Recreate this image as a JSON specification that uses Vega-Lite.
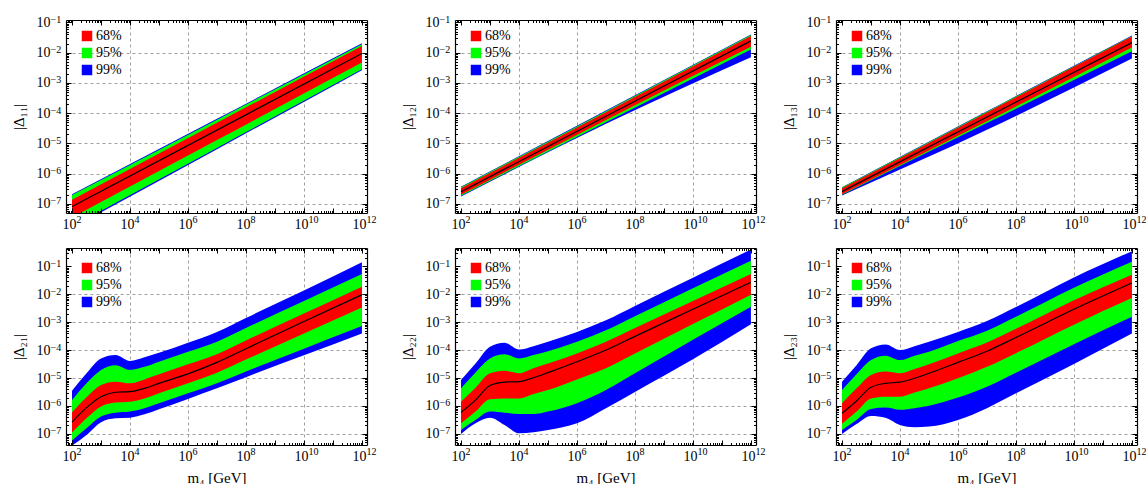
{
"$schema": "https://vega.github.io/schema/vega-lite/v6.json",
"padding": {"left": 11, "top": 14, "right": 0, "bottom": 0},
"datasets": {"d": [
{"p":1,"m":1e2,"b1":1.58e-8,"b2":2.09e-7,"g1":1.78e-8,"g2":1.95e-7,"r1":3.55e-8,"r2":1.38e-7,"c":8.13e-8},
{"p":1,"m":1e7,"b1":6.46e-6,"b2":6.5e-5,"g1":7.08e-6,"g2":6.1e-5,"r1":1.29e-5,"r2":4.79e-5,"c":2.75e-5},
{"p":1,"m":1e12,"b1":2.63e-3,"b2":2.04e-2,"g1":2.82e-3,"g2":1.91e-2,"r1":4.68e-3,"r2":1.66e-2,"c":9.33e-3},
{"p":2,"m":1e2,"b1":1.74e-7,"b2":3.72e-7,"g1":1.86e-7,"g2":3.55e-7,"r1":2.0e-7,"r2":3.31e-7,"c":2.51e-7},
{"p":2,"m":1e7,"b1":4.47e-5,"b2":1.22e-4,"g1":5.01e-5,"g2":1.16e-4,"r1":5.89e-5,"r2":1.08e-4,"c":7.85e-5},
{"p":2,"m":1e12,"b1":7.08e-3,"b2":3.98e-2,"g1":1.26e-2,"g2":3.8e-2,"r1":1.58e-2,"r2":3.55e-2,"c":2.45e-2},
{"p":3,"m":1e2,"b1":1.91e-7,"b2":3.55e-7,"g1":2.0e-7,"g2":3.47e-7,"r1":2.09e-7,"r2":3.31e-7,"c":2.57e-7},
{"p":3,"m":1e7,"b1":2.82e-5,"b2":1.15e-4,"g1":4.68e-5,"g2":1.11e-4,"r1":5.37e-5,"r2":1.06e-4,"c":7.41e-5},
{"p":3,"m":1e12,"b1":6.46e-3,"b2":3.72e-2,"g1":1.12e-2,"g2":3.55e-2,"r1":1.48e-2,"r2":3.39e-2,"c":2.14e-2},
{"p":4,"m":100,"b2":3.47e-6,"g2":1.62e-6,"r2":5.89e-7,"c":2.63e-7,"r1":1.12e-7,"g1":5.75e-8,"b1":3.8e-8},
{"p":4,"m":316.2,"b2":1.48e-5,"g2":6.46e-6,"r2":2.04e-6,"c":8.71e-7,"r1":3.63e-7,"g1":1.58e-7,"b1":9.12e-8},
{"p":4,"m":1000,"b2":5.01e-5,"g2":1.95e-5,"r2":5.62e-6,"c":2.14e-6,"r1":9.55e-7,"g1":4.17e-7,"b1":2.63e-7},
{"p":4,"m":3162,"b2":6.61e-5,"g2":2.88e-5,"r2":7.41e-6,"c":3.09e-6,"r1":1.32e-6,"g1":5.75e-7,"b1":3.63e-7},
{"p":4,"m":1e4,"b2":4.07e-5,"g2":1.95e-5,"r2":6.46e-6,"c":3.24e-6,"r1":1.41e-6,"g1":6.31e-7,"b1":3.8e-7},
{"p":4,"m":31623,"b2":5.5e-5,"g2":2.51e-5,"r2":8.91e-6,"c":4.27e-6,"r1":1.86e-6,"g1":8.32e-7,"b1":5.01e-7},
{"p":4,"m":1e5,"b2":7.94e-5,"g2":3.8e-5,"r2":1.35e-5,"c":6.46e-6,"r1":2.82e-6,"g1":1.26e-6,"b1":7.59e-7},
{"p":4,"m":1e6,"b2":1.82e-4,"g2":8.71e-5,"r2":3.09e-5,"c":1.41e-5,"r1":6.46e-6,"g1":2.82e-6,"b1":1.78e-6},
{"p":4,"m":1e7,"b2":4.47e-4,"g2":2.0e-4,"r2":7.08e-5,"c":3.63e-5,"r1":1.55e-5,"g1":6.46e-6,"b1":4.27e-6},
{"p":4,"m":1e8,"b2":1.41e-3,"g2":6.17e-4,"r2":2.19e-4,"c":1.12e-4,"r1":4.57e-5,"g1":1.7e-5,"b1":1.07e-5},
{"p":4,"m":1e10,"b2":1.35e-2,"g2":5.75e-3,"r2":2.04e-3,"c":1.05e-3,"r1":3.89e-4,"g1":1.12e-4,"b1":6.46e-5},
{"p":4,"m":1e12,"b2":1.38e-1,"g2":5.25e-2,"r2":1.86e-2,"c":9.55e-3,"r1":3.31e-3,"g1":7.24e-4,"b1":3.89e-4},
{"p":5,"m":100,"b2":8.51e-6,"g2":4.27e-6,"r2":1.41e-6,"c":5.89e-7,"r1":2.4e-7,"g1":1.38e-7,"b1":1.0e-7},
{"p":5,"m":316.2,"b2":3.31e-5,"g2":1.58e-5,"r2":4.47e-6,"c":1.62e-6,"r1":6.31e-7,"g1":3.16e-7,"b1":2.4e-7},
{"p":5,"m":1000,"b2":1.32e-4,"g2":5.01e-5,"r2":1.48e-5,"c":5.37e-6,"r1":1.74e-6,"g1":6.31e-7,"b1":3.8e-7},
{"p":5,"m":3162,"b2":1.82e-4,"g2":7.08e-5,"r2":1.82e-5,"c":7.08e-6,"r1":1.86e-6,"g1":5.75e-7,"b1":2.09e-7},
{"p":5,"m":1e4,"b2":1.05e-4,"g2":5.01e-5,"r2":1.48e-5,"c":7.41e-6,"r1":1.86e-6,"g1":5.13e-7,"b1":1.05e-7},
{"p":5,"m":31623,"b2":1.38e-4,"g2":6.61e-5,"r2":2.24e-5,"c":1.02e-5,"r1":2.69e-6,"g1":5.13e-7,"b1":1.15e-7},
{"p":5,"m":1e5,"b2":2.0e-4,"g2":9.12e-5,"r2":3.31e-5,"c":1.55e-5,"r1":3.72e-6,"g1":6.31e-7,"b1":1.38e-7},
{"p":5,"m":1e6,"b2":4.47e-4,"g2":2.0e-4,"r2":7.59e-5,"c":3.8e-5,"r1":8.91e-6,"g1":1.26e-6,"b1":2.4e-7},
{"p":5,"m":1e7,"b2":1.17e-3,"g2":5.13e-4,"r2":2.0e-4,"c":1.0e-4,"r1":2.24e-5,"g1":3.72e-6,"b1":8.32e-7},
{"p":5,"m":1e8,"b2":3.8e-3,"g2":1.62e-3,"r2":6.17e-4,"c":3.09e-4,"r1":7.59e-5,"g1":1.48e-5,"b1":3.16e-6},
{"p":5,"m":1e10,"b2":3.89e-2,"g2":1.62e-2,"r2":5.75e-3,"c":2.88e-3,"r1":8.51e-4,"g1":2.34e-4,"b1":4.68e-5},
{"p":5,"m":1e12,"b2":3.98e-1,"g2":1.58e-1,"r2":5.25e-2,"c":2.69e-2,"r1":9.55e-3,"g1":3.55e-3,"b1":8.32e-4},
{"p":6,"m":100,"b2":7.41e-6,"g2":3.72e-6,"r2":1.26e-6,"c":5.5e-7,"r1":2.29e-7,"g1":1.38e-7,"b1":1.0e-7},
{"p":6,"m":316.2,"b2":2.88e-5,"g2":1.35e-5,"r2":4.27e-6,"c":1.51e-6,"r1":6.31e-7,"g1":3.16e-7,"b1":2.24e-7},
{"p":6,"m":1000,"b2":1.15e-4,"g2":4.37e-5,"r2":1.29e-5,"c":4.68e-6,"r1":1.86e-6,"g1":7.76e-7,"b1":4.37e-7},
{"p":6,"m":3162,"b2":1.58e-4,"g2":6.31e-5,"r2":1.7e-5,"c":6.46e-6,"r1":2.14e-6,"g1":8.71e-7,"b1":3.8e-7},
{"p":6,"m":1e4,"b2":1.0e-4,"g2":4.37e-5,"r2":1.48e-5,"c":7.08e-6,"r1":2.14e-6,"g1":7.24e-7,"b1":2.09e-7},
{"p":6,"m":31623,"b2":1.38e-4,"g2":6.31e-5,"r2":2.09e-5,"c":9.77e-6,"r1":3.02e-6,"g1":8.32e-7,"b1":1.74e-7},
{"p":6,"m":1e5,"b2":2.0e-4,"g2":8.71e-5,"r2":3.09e-5,"c":1.48e-5,"r1":4.27e-6,"g1":1.02e-6,"b1":1.82e-7},
{"p":6,"m":1e6,"b2":4.47e-4,"g2":2.09e-4,"r2":7.59e-5,"c":3.63e-5,"r1":9.77e-6,"g1":2.0e-6,"b1":3.16e-7},
{"p":6,"m":1e7,"b2":1.1e-3,"g2":4.9e-4,"r2":1.86e-4,"c":9.12e-5,"r1":2.51e-5,"g1":4.9e-6,"b1":8.32e-7},
{"p":6,"m":1e8,"b2":3.47e-3,"g2":1.55e-3,"r2":5.75e-4,"c":2.82e-4,"r1":7.76e-5,"g1":1.55e-5,"b1":2.82e-6},
{"p":6,"m":1e10,"b2":3.98e-2,"g2":1.7e-2,"r2":6.03e-3,"c":2.88e-3,"r1":8.13e-4,"g1":1.62e-4,"b1":3.16e-5},
{"p":6,"m":1e12,"b2":3.47e-1,"g2":1.45e-1,"r2":5.01e-2,"c":2.51e-2,"r1":7.24e-3,"g1":1.55e-3,"b1":3.89e-4}
]},
"data": {"name": "d"},
"config": {
  "view": {"stroke": null},
  "font": "Liberation Serif",
  "axis": {"labelFont": "Liberation Serif", "labelFontSize": 14, "labelColor": "#000", "titleFont": "Liberation Serif", "titleColor": "#000", "titleFontWeight": "normal", "titleFontSize": 15, "labelFlush": false, "labelOverlap": false, "tickColor": "#000", "domainColor": "#000", "domainWidth": 1.2, "gridColor": "#a0a0a0", "gridDash": [3, 3], "gridWidth": 1},
  "legend": {"labelFont": "Liberation Serif", "labelFontSize": 14, "labelColor": "#000"}
},
"spacing": 16,
"resolve": {"scale": {"color": "independent"}, "legend": {"color": "independent"}},
"vconcat": [
{"hconcat": [
 {"width": 301, "height": 193, "transform": [{"filter": "datum.p == 1"}],
  "layer": [
   {"mark": {"type": "area", "clip": true, "opacity": 1, "interpolate": "monotone"}, "encoding": {
     "x": {"field": "m", "type": "quantitative", "scale": {"type": "log", "domain": [62, 1.5e12], "nice": false}, "axis": {"orient": "bottom", "values": [1e2,1e4,1e6,1e8,1e10,1e12], "labelExpr": "'10'", "labelAlign": "right", "labelOffset": 4, "labelPadding": 4, "ticks": false, "domain": false, "grid": true, "gridOpacity": {"condition": {"test": "datum.value < 1e3 || datum.value > 1e11", "value": 0}, "value": 1}, "title": null, "zindex": 0}},
     "y": {"field": "b1", "type": "quantitative", "scale": {"type": "log", "domain": [5e-8, 0.12], "nice": false}, "axis": {"orient": "left", "values": [1e-7,1e-6,1e-5,1e-4,1e-3,1e-2,1e-1], "labelExpr": "'10'", "labelAlign": "right", "labelBaseline": "middle", "labelPadding": 16, "ticks": false, "domain": false, "grid": true, "gridOpacity": {"condition": {"test": "datum.value > 0.05", "value": 0}, "value": 1}, "title": "|Δ₁₁|", "titlePadding": 10, "zindex": 0}},
     "y2": {"field": "b2"},
     "color": {"datum": "99%", "type": "nominal", "scale": {"domain": ["68%","95%","99%"], "range": ["#ff0000","#00ff00","#0000ff"]}, "legend": {"orient": "none", "legendX": 14, "legendY": 9, "title": null, "symbolType": "square", "symbolSize": 110, "symbolStrokeWidth": 0, "symbolOpacity": 1, "rowPadding": 3, "labelOffset": 2, "padding": 0}}}},
   {"mark": {"type": "area", "clip": true, "opacity": 1, "interpolate": "monotone"}, "encoding": {
     "x": {"field": "m", "type": "quantitative", "scale": {"type": "log", "domain": [62, 1.5e12], "nice": false}, "axis": {"orient": "bottom", "values": [1e2,1e3,1e4,1e5,1e6,1e7,1e8,1e9,1e10,1e11,1e12], "labels": false, "tickSize": -5, "domain": true, "grid": false, "title": null, "zindex": 1}},
     "y": {"field": "g1", "type": "quantitative", "scale": {"type": "log", "domain": [5e-8, 0.12], "nice": false}, "axis": {"orient": "left", "values": [1e-7,1e-6,1e-5,1e-4,1e-3,1e-2,1e-1], "labels": false, "tickSize": -5, "domain": true, "grid": false, "title": null, "zindex": 1}},
     "y2": {"field": "g2"},
     "color": {"datum": "95%", "type": "nominal"}}},
   {"mark": {"type": "area", "clip": true, "opacity": 1, "interpolate": "monotone"}, "encoding": {
     "x": {"field": "m", "type": "quantitative", "scale": {"type": "log", "domain": [62, 1.5e12], "nice": false}, "axis": {"orient": "bottom", "values": [70,80,90,200,300,400,500,600,700,800,900,2e3,3e3,4e3,5e3,6e3,7e3,8e3,9e3,2e4,3e4,4e4,5e4,6e4,7e4,8e4,9e4,2e5,3e5,4e5,5e5,6e5,7e5,8e5,9e5,2e6,3e6,4e6,5e6,6e6,7e6,8e6,9e6,2e7,3e7,4e7,5e7,6e7,7e7,8e7,9e7,2e8,3e8,4e8,5e8,6e8,7e8,8e8,9e8,2e9,3e9,4e9,5e9,6e9,7e9,8e9,9e9,2e10,3e10,4e10,5e10,6e10,7e10,8e10,9e10,2e11,3e11,4e11,5e11,6e11,7e11,8e11,9e11], "labels": false, "tickSize": -2.5, "domain": false, "grid": false, "title": null, "zindex": 1}},
     "y": {"field": "r1", "type": "quantitative", "scale": {"type": "log", "domain": [5e-8, 0.12], "nice": false}, "axis": {"orient": "left", "values": [6e-8,7e-8,8e-8,9e-8,2e-7,3e-7,4e-7,5e-7,6e-7,7e-7,8e-7,9e-7,2e-6,3e-6,4e-6,5e-6,6e-6,7e-6,8e-6,9e-6,2e-5,3e-5,4e-5,5e-5,6e-5,7e-5,8e-5,9e-5,2e-4,3e-4,4e-4,5e-4,6e-4,7e-4,8e-4,9e-4,2e-3,3e-3,4e-3,5e-3,6e-3,7e-3,8e-3,9e-3,2e-2,3e-2,4e-2,5e-2,6e-2,7e-2,8e-2,9e-2], "labels": false, "tickSize": -2.5, "domain": false, "grid": false, "title": null, "zindex": 1}},
     "y2": {"field": "r2"},
     "color": {"datum": "68%", "type": "nominal"}}},
   {"mark": {"type": "line", "clip": true, "color": "#000", "strokeWidth": 1.2, "interpolate": "monotone"}, "encoding": {
     "x": {"field": "m", "type": "quantitative", "scale": {"type": "log", "domain": [62, 1.5e12], "nice": false}, "axis": {"orient": "top", "values": [1e2,1e3,1e4,1e5,1e6,1e7,1e8,1e9,1e10,1e11,1e12], "labels": false, "tickSize": -5, "domain": true, "grid": false, "title": null, "zindex": 1}},
     "y": {"field": "c", "type": "quantitative", "scale": {"type": "log", "domain": [5e-8, 0.12], "nice": false}, "axis": {"orient": "right", "values": [1e-7,1e-6,1e-5,1e-4,1e-3,1e-2,1e-1], "labels": false, "tickSize": -5, "domain": true, "grid": false, "title": null, "zindex": 1}}}},
   {"mark": {"type": "line", "clip": true, "opacity": 0}, "encoding": {
     "x": {"field": "m", "type": "quantitative", "scale": {"type": "log", "domain": [62, 1.5e12], "nice": false}, "axis": {"orient": "top", "values": [70,80,90,200,300,400,500,600,700,800,900,2e3,3e3,4e3,5e3,6e3,7e3,8e3,9e3,2e4,3e4,4e4,5e4,6e4,7e4,8e4,9e4,2e5,3e5,4e5,5e5,6e5,7e5,8e5,9e5,2e6,3e6,4e6,5e6,6e6,7e6,8e6,9e6,2e7,3e7,4e7,5e7,6e7,7e7,8e7,9e7,2e8,3e8,4e8,5e8,6e8,7e8,8e8,9e8,2e9,3e9,4e9,5e9,6e9,7e9,8e9,9e9,2e10,3e10,4e10,5e10,6e10,7e10,8e10,9e10,2e11,3e11,4e11,5e11,6e11,7e11,8e11,9e11], "labels": false, "tickSize": -2.5, "domain": false, "grid": false, "title": null, "zindex": 1}},
     "y": {"field": "c", "type": "quantitative", "scale": {"type": "log", "domain": [5e-8, 0.12], "nice": false}, "axis": {"orient": "right", "values": [6e-8,7e-8,8e-8,9e-8,2e-7,3e-7,4e-7,5e-7,6e-7,7e-7,8e-7,9e-7,2e-6,3e-6,4e-6,5e-6,6e-6,7e-6,8e-6,9e-6,2e-5,3e-5,4e-5,5e-5,6e-5,7e-5,8e-5,9e-5,2e-4,3e-4,4e-4,5e-4,6e-4,7e-4,8e-4,9e-4,2e-3,3e-3,4e-3,5e-3,6e-3,7e-3,8e-3,9e-3,2e-2,3e-2,4e-2,5e-2,6e-2,7e-2,8e-2,9e-2], "labels": false, "tickSize": -2.5, "domain": false, "grid": false, "title": null, "zindex": 1}}}},
   {"mark": {"type": "line", "clip": true, "opacity": 0}, "encoding": {
     "x": {"field": "m", "type": "quantitative", "scale": {"type": "log", "domain": [62, 1.5e12], "nice": false}, "axis": {"orient": "bottom", "values": [1e2,1e4,1e6,1e8,1e10,1e12], "labelExpr": "round(log(datum.value)/LN10) + ''", "labelAlign": "left", "labelOffset": 4, "labelPadding": 1, "labelFontSize": 10, "ticks": false, "domain": false, "grid": false, "title": null}},
     "y": {"field": "c", "type": "quantitative", "scale": {"type": "log", "domain": [5e-8, 0.12], "nice": false}, "axis": {"orient": "left", "values": [1e-7,1e-6,1e-5,1e-4,1e-3,1e-2,1e-1], "labelExpr": "'−' + round(-log(datum.value)/LN10)", "labelAlign": "left", "labelBaseline": "alphabetic", "labelPadding": 16, "labelFontSize": 10, "ticks": false, "domain": false, "grid": false, "title": null}}}}
  ],
  "resolve": {"axis": {"x": "independent", "y": "independent"}}},
 {"hconcat": [
 {"width": 301, "height": 193, "transform": [{"filter": "datum.p == 2"}],
  "layer": [
   {"mark": {"type": "area", "clip": true, "opacity": 1, "interpolate": "monotone"}, "encoding": {
     "x": {"field": "m", "type": "quantitative", "scale": {"type": "log", "domain": [62, 1.5e12], "nice": false}, "axis": {"orient": "bottom", "values": [1e2,1e4,1e6,1e8,1e10,1e12], "labelExpr": "'10'", "labelAlign": "right", "labelOffset": 4, "labelPadding": 4, "ticks": false, "domain": false, "grid": true, "gridOpacity": {"condition": {"test": "datum.value < 1e3 || datum.value > 1e11", "value": 0}, "value": 1}, "title": null, "zindex": 0}},
     "y": {"field": "b1", "type": "quantitative", "scale": {"type": "log", "domain": [5e-8, 0.12], "nice": false}, "axis": {"orient": "left", "values": [1e-7,1e-6,1e-5,1e-4,1e-3,1e-2,1e-1], "labelExpr": "'10'", "labelAlign": "right", "labelBaseline": "middle", "labelPadding": 16, "ticks": false, "domain": false, "grid": true, "gridOpacity": {"condition": {"test": "datum.value > 0.05", "value": 0}, "value": 1}, "title": "|Δ₁₂|", "titlePadding": 10, "zindex": 0}},
     "y2": {"field": "b2"},
     "color": {"datum": "99%", "type": "nominal", "scale": {"domain": ["68%","95%","99%"], "range": ["#ff0000","#00ff00","#0000ff"]}, "legend": {"orient": "none", "legendX": 14, "legendY": 9, "title": null, "symbolType": "square", "symbolSize": 110, "symbolStrokeWidth": 0, "symbolOpacity": 1, "rowPadding": 3, "labelOffset": 2, "padding": 0}}}},
   {"mark": {"type": "area", "clip": true, "opacity": 1, "interpolate": "monotone"}, "encoding": {
     "x": {"field": "m", "type": "quantitative", "scale": {"type": "log", "domain": [62, 1.5e12], "nice": false}, "axis": {"orient": "bottom", "values": [1e2,1e3,1e4,1e5,1e6,1e7,1e8,1e9,1e10,1e11,1e12], "labels": false, "tickSize": -5, "domain": true, "grid": false, "title": null, "zindex": 1}},
     "y": {"field": "g1", "type": "quantitative", "scale": {"type": "log", "domain": [5e-8, 0.12], "nice": false}, "axis": {"orient": "left", "values": [1e-7,1e-6,1e-5,1e-4,1e-3,1e-2,1e-1], "labels": false, "tickSize": -5, "domain": true, "grid": false, "title": null, "zindex": 1}},
     "y2": {"field": "g2"},
     "color": {"datum": "95%", "type": "nominal"}}},
   {"mark": {"type": "area", "clip": true, "opacity": 1, "interpolate": "monotone"}, "encoding": {
     "x": {"field": "m", "type": "quantitative", "scale": {"type": "log", "domain": [62, 1.5e12], "nice": false}, "axis": {"orient": "bottom", "values": [70,80,90,200,300,400,500,600,700,800,900,2e3,3e3,4e3,5e3,6e3,7e3,8e3,9e3,2e4,3e4,4e4,5e4,6e4,7e4,8e4,9e4,2e5,3e5,4e5,5e5,6e5,7e5,8e5,9e5,2e6,3e6,4e6,5e6,6e6,7e6,8e6,9e6,2e7,3e7,4e7,5e7,6e7,7e7,8e7,9e7,2e8,3e8,4e8,5e8,6e8,7e8,8e8,9e8,2e9,3e9,4e9,5e9,6e9,7e9,8e9,9e9,2e10,3e10,4e10,5e10,6e10,7e10,8e10,9e10,2e11,3e11,4e11,5e11,6e11,7e11,8e11,9e11], "labels": false, "tickSize": -2.5, "domain": false, "grid": false, "title": null, "zindex": 1}},
     "y": {"field": "r1", "type": "quantitative", "scale": {"type": "log", "domain": [5e-8, 0.12], "nice": false}, "axis": {"orient": "left", "values": [6e-8,7e-8,8e-8,9e-8,2e-7,3e-7,4e-7,5e-7,6e-7,7e-7,8e-7,9e-7,2e-6,3e-6,4e-6,5e-6,6e-6,7e-6,8e-6,9e-6,2e-5,3e-5,4e-5,5e-5,6e-5,7e-5,8e-5,9e-5,2e-4,3e-4,4e-4,5e-4,6e-4,7e-4,8e-4,9e-4,2e-3,3e-3,4e-3,5e-3,6e-3,7e-3,8e-3,9e-3,2e-2,3e-2,4e-2,5e-2,6e-2,7e-2,8e-2,9e-2], "labels": false, "tickSize": -2.5, "domain": false, "grid": false, "title": null, "zindex": 1}},
     "y2": {"field": "r2"},
     "color": {"datum": "68%", "type": "nominal"}}},
   {"mark": {"type": "line", "clip": true, "color": "#000", "strokeWidth": 1.2, "interpolate": "monotone"}, "encoding": {
     "x": {"field": "m", "type": "quantitative", "scale": {"type": "log", "domain": [62, 1.5e12], "nice": false}, "axis": {"orient": "top", "values": [1e2,1e3,1e4,1e5,1e6,1e7,1e8,1e9,1e10,1e11,1e12], "labels": false, "tickSize": -5, "domain": true, "grid": false, "title": null, "zindex": 1}},
     "y": {"field": "c", "type": "quantitative", "scale": {"type": "log", "domain": [5e-8, 0.12], "nice": false}, "axis": {"orient": "right", "values": [1e-7,1e-6,1e-5,1e-4,1e-3,1e-2,1e-1], "labels": false, "tickSize": -5, "domain": true, "grid": false, "title": null, "zindex": 1}}}},
   {"mark": {"type": "line", "clip": true, "opacity": 0}, "encoding": {
     "x": {"field": "m", "type": "quantitative", "scale": {"type": "log", "domain": [62, 1.5e12], "nice": false}, "axis": {"orient": "top", "values": [70,80,90,200,300,400,500,600,700,800,900,2e3,3e3,4e3,5e3,6e3,7e3,8e3,9e3,2e4,3e4,4e4,5e4,6e4,7e4,8e4,9e4,2e5,3e5,4e5,5e5,6e5,7e5,8e5,9e5,2e6,3e6,4e6,5e6,6e6,7e6,8e6,9e6,2e7,3e7,4e7,5e7,6e7,7e7,8e7,9e7,2e8,3e8,4e8,5e8,6e8,7e8,8e8,9e8,2e9,3e9,4e9,5e9,6e9,7e9,8e9,9e9,2e10,3e10,4e10,5e10,6e10,7e10,8e10,9e10,2e11,3e11,4e11,5e11,6e11,7e11,8e11,9e11], "labels": false, "tickSize": -2.5, "domain": false, "grid": false, "title": null, "zindex": 1}},
     "y": {"field": "c", "type": "quantitative", "scale": {"type": "log", "domain": [5e-8, 0.12], "nice": false}, "axis": {"orient": "right", "values": [6e-8,7e-8,8e-8,9e-8,2e-7,3e-7,4e-7,5e-7,6e-7,7e-7,8e-7,9e-7,2e-6,3e-6,4e-6,5e-6,6e-6,7e-6,8e-6,9e-6,2e-5,3e-5,4e-5,5e-5,6e-5,7e-5,8e-5,9e-5,2e-4,3e-4,4e-4,5e-4,6e-4,7e-4,8e-4,9e-4,2e-3,3e-3,4e-3,5e-3,6e-3,7e-3,8e-3,9e-3,2e-2,3e-2,4e-2,5e-2,6e-2,7e-2,8e-2,9e-2], "labels": false, "tickSize": -2.5, "domain": false, "grid": false, "title": null, "zindex": 1}}}},
   {"mark": {"type": "line", "clip": true, "opacity": 0}, "encoding": {
     "x": {"field": "m", "type": "quantitative", "scale": {"type": "log", "domain": [62, 1.5e12], "nice": false}, "axis": {"orient": "bottom", "values": [1e2,1e4,1e6,1e8,1e10,1e12], "labelExpr": "round(log(datum.value)/LN10) + ''", "labelAlign": "left", "labelOffset": 4, "labelPadding": 1, "labelFontSize": 10, "ticks": false, "domain": false, "grid": false, "title": null}},
     "y": {"field": "c", "type": "quantitative", "scale": {"type": "log", "domain": [5e-8, 0.12], "nice": false}, "axis": {"orient": "left", "values": [1e-7,1e-6,1e-5,1e-4,1e-3,1e-2,1e-1], "labelExpr": "'−' + round(-log(datum.value)/LN10)", "labelAlign": "left", "labelBaseline": "alphabetic", "labelPadding": 16, "labelFontSize": 10, "ticks": false, "domain": false, "grid": false, "title": null}}}}
  ],
  "resolve": {"axis": {"x": "independent", "y": "independent"}}},
 {"width": 301, "height": 193, "transform": [{"filter": "datum.p == 3"}],
  "layer": [
   {"mark": {"type": "area", "clip": true, "opacity": 1, "interpolate": "monotone"}, "encoding": {
     "x": {"field": "m", "type": "quantitative", "scale": {"type": "log", "domain": [62, 1.5e12], "nice": false}, "axis": {"orient": "bottom", "values": [1e2,1e4,1e6,1e8,1e10,1e12], "labelExpr": "'10'", "labelAlign": "right", "labelOffset": 4, "labelPadding": 4, "ticks": false, "domain": false, "grid": true, "gridOpacity": {"condition": {"test": "datum.value < 1e3 || datum.value > 1e11", "value": 0}, "value": 1}, "title": null, "zindex": 0}},
     "y": {"field": "b1", "type": "quantitative", "scale": {"type": "log", "domain": [5e-8, 0.12], "nice": false}, "axis": {"orient": "left", "values": [1e-7,1e-6,1e-5,1e-4,1e-3,1e-2,1e-1], "labelExpr": "'10'", "labelAlign": "right", "labelBaseline": "middle", "labelPadding": 16, "ticks": false, "domain": false, "grid": true, "gridOpacity": {"condition": {"test": "datum.value > 0.05", "value": 0}, "value": 1}, "title": "|Δ₁₃|", "titlePadding": 10, "zindex": 0}},
     "y2": {"field": "b2"},
     "color": {"datum": "99%", "type": "nominal", "scale": {"domain": ["68%","95%","99%"], "range": ["#ff0000","#00ff00","#0000ff"]}, "legend": {"orient": "none", "legendX": 14, "legendY": 9, "title": null, "symbolType": "square", "symbolSize": 110, "symbolStrokeWidth": 0, "symbolOpacity": 1, "rowPadding": 3, "labelOffset": 2, "padding": 0}}}},
   {"mark": {"type": "area", "clip": true, "opacity": 1, "interpolate": "monotone"}, "encoding": {
     "x": {"field": "m", "type": "quantitative", "scale": {"type": "log", "domain": [62, 1.5e12], "nice": false}, "axis": {"orient": "bottom", "values": [1e2,1e3,1e4,1e5,1e6,1e7,1e8,1e9,1e10,1e11,1e12], "labels": false, "tickSize": -5, "domain": true, "grid": false, "title": null, "zindex": 1}},
     "y": {"field": "g1", "type": "quantitative", "scale": {"type": "log", "domain": [5e-8, 0.12], "nice": false}, "axis": {"orient": "left", "values": [1e-7,1e-6,1e-5,1e-4,1e-3,1e-2,1e-1], "labels": false, "tickSize": -5, "domain": true, "grid": false, "title": null, "zindex": 1}},
     "y2": {"field": "g2"},
     "color": {"datum": "95%", "type": "nominal"}}},
   {"mark": {"type": "area", "clip": true, "opacity": 1, "interpolate": "monotone"}, "encoding": {
     "x": {"field": "m", "type": "quantitative", "scale": {"type": "log", "domain": [62, 1.5e12], "nice": false}, "axis": {"orient": "bottom", "values": [70,80,90,200,300,400,500,600,700,800,900,2e3,3e3,4e3,5e3,6e3,7e3,8e3,9e3,2e4,3e4,4e4,5e4,6e4,7e4,8e4,9e4,2e5,3e5,4e5,5e5,6e5,7e5,8e5,9e5,2e6,3e6,4e6,5e6,6e6,7e6,8e6,9e6,2e7,3e7,4e7,5e7,6e7,7e7,8e7,9e7,2e8,3e8,4e8,5e8,6e8,7e8,8e8,9e8,2e9,3e9,4e9,5e9,6e9,7e9,8e9,9e9,2e10,3e10,4e10,5e10,6e10,7e10,8e10,9e10,2e11,3e11,4e11,5e11,6e11,7e11,8e11,9e11], "labels": false, "tickSize": -2.5, "domain": false, "grid": false, "title": null, "zindex": 1}},
     "y": {"field": "r1", "type": "quantitative", "scale": {"type": "log", "domain": [5e-8, 0.12], "nice": false}, "axis": {"orient": "left", "values": [6e-8,7e-8,8e-8,9e-8,2e-7,3e-7,4e-7,5e-7,6e-7,7e-7,8e-7,9e-7,2e-6,3e-6,4e-6,5e-6,6e-6,7e-6,8e-6,9e-6,2e-5,3e-5,4e-5,5e-5,6e-5,7e-5,8e-5,9e-5,2e-4,3e-4,4e-4,5e-4,6e-4,7e-4,8e-4,9e-4,2e-3,3e-3,4e-3,5e-3,6e-3,7e-3,8e-3,9e-3,2e-2,3e-2,4e-2,5e-2,6e-2,7e-2,8e-2,9e-2], "labels": false, "tickSize": -2.5, "domain": false, "grid": false, "title": null, "zindex": 1}},
     "y2": {"field": "r2"},
     "color": {"datum": "68%", "type": "nominal"}}},
   {"mark": {"type": "line", "clip": true, "color": "#000", "strokeWidth": 1.2, "interpolate": "monotone"}, "encoding": {
     "x": {"field": "m", "type": "quantitative", "scale": {"type": "log", "domain": [62, 1.5e12], "nice": false}, "axis": {"orient": "top", "values": [1e2,1e3,1e4,1e5,1e6,1e7,1e8,1e9,1e10,1e11,1e12], "labels": false, "tickSize": -5, "domain": true, "grid": false, "title": null, "zindex": 1}},
     "y": {"field": "c", "type": "quantitative", "scale": {"type": "log", "domain": [5e-8, 0.12], "nice": false}, "axis": {"orient": "right", "values": [1e-7,1e-6,1e-5,1e-4,1e-3,1e-2,1e-1], "labels": false, "tickSize": -5, "domain": true, "grid": false, "title": null, "zindex": 1}}}},
   {"mark": {"type": "line", "clip": true, "opacity": 0}, "encoding": {
     "x": {"field": "m", "type": "quantitative", "scale": {"type": "log", "domain": [62, 1.5e12], "nice": false}, "axis": {"orient": "top", "values": [70,80,90,200,300,400,500,600,700,800,900,2e3,3e3,4e3,5e3,6e3,7e3,8e3,9e3,2e4,3e4,4e4,5e4,6e4,7e4,8e4,9e4,2e5,3e5,4e5,5e5,6e5,7e5,8e5,9e5,2e6,3e6,4e6,5e6,6e6,7e6,8e6,9e6,2e7,3e7,4e7,5e7,6e7,7e7,8e7,9e7,2e8,3e8,4e8,5e8,6e8,7e8,8e8,9e8,2e9,3e9,4e9,5e9,6e9,7e9,8e9,9e9,2e10,3e10,4e10,5e10,6e10,7e10,8e10,9e10,2e11,3e11,4e11,5e11,6e11,7e11,8e11,9e11], "labels": false, "tickSize": -2.5, "domain": false, "grid": false, "title": null, "zindex": 1}},
     "y": {"field": "c", "type": "quantitative", "scale": {"type": "log", "domain": [5e-8, 0.12], "nice": false}, "axis": {"orient": "right", "values": [6e-8,7e-8,8e-8,9e-8,2e-7,3e-7,4e-7,5e-7,6e-7,7e-7,8e-7,9e-7,2e-6,3e-6,4e-6,5e-6,6e-6,7e-6,8e-6,9e-6,2e-5,3e-5,4e-5,5e-5,6e-5,7e-5,8e-5,9e-5,2e-4,3e-4,4e-4,5e-4,6e-4,7e-4,8e-4,9e-4,2e-3,3e-3,4e-3,5e-3,6e-3,7e-3,8e-3,9e-3,2e-2,3e-2,4e-2,5e-2,6e-2,7e-2,8e-2,9e-2], "labels": false, "tickSize": -2.5, "domain": false, "grid": false, "title": null, "zindex": 1}}}},
   {"mark": {"type": "line", "clip": true, "opacity": 0}, "encoding": {
     "x": {"field": "m", "type": "quantitative", "scale": {"type": "log", "domain": [62, 1.5e12], "nice": false}, "axis": {"orient": "bottom", "values": [1e2,1e4,1e6,1e8,1e10,1e12], "labelExpr": "round(log(datum.value)/LN10) + ''", "labelAlign": "left", "labelOffset": 4, "labelPadding": 1, "labelFontSize": 10, "ticks": false, "domain": false, "grid": false, "title": null}},
     "y": {"field": "c", "type": "quantitative", "scale": {"type": "log", "domain": [5e-8, 0.12], "nice": false}, "axis": {"orient": "left", "values": [1e-7,1e-6,1e-5,1e-4,1e-3,1e-2,1e-1], "labelExpr": "'−' + round(-log(datum.value)/LN10)", "labelAlign": "left", "labelBaseline": "alphabetic", "labelPadding": 16, "labelFontSize": 10, "ticks": false, "domain": false, "grid": false, "title": null}}}}
  ],
  "resolve": {"axis": {"x": "independent", "y": "independent"}}}
 ], "spacing": 80, "bounds": "flush", "resolve": {"scale": {"color": "independent"}, "legend": {"color": "independent"}}}
], "spacing": 88, "bounds": "flush", "resolve": {"scale": {"color": "independent"}, "legend": {"color": "independent"}}},
{"hconcat": [
 {"width": 301, "height": 197, "transform": [{"filter": "datum.p == 4"}],
  "layer": [
   {"mark": {"type": "area", "clip": true, "opacity": 1, "interpolate": "monotone"}, "encoding": {
     "x": {"field": "m", "type": "quantitative", "scale": {"type": "log", "domain": [62, 1.5e12], "nice": false}, "axis": {"orient": "bottom", "values": [1e2,1e4,1e6,1e8,1e10,1e12], "labelExpr": "'10'", "labelAlign": "right", "labelOffset": 4, "labelPadding": 4, "ticks": false, "domain": false, "grid": true, "gridOpacity": {"condition": {"test": "datum.value < 1e3 || datum.value > 1e11", "value": 0}, "value": 1}, "title": "m₄  [GeV]", "titlePadding": 7, "zindex": 0}},
     "y": {"field": "b1", "type": "quantitative", "scale": {"type": "log", "domain": [4e-8, 0.45], "nice": false}, "axis": {"orient": "left", "values": [1e-7,1e-6,1e-5,1e-4,1e-3,1e-2,1e-1], "labelExpr": "'10'", "labelAlign": "right", "labelBaseline": "middle", "labelPadding": 16, "ticks": false, "domain": false, "grid": true, "gridOpacity": {"condition": {"test": "datum.value > 0.05", "value": 0}, "value": 1}, "title": "|Δ₂₁|", "titlePadding": 10, "zindex": 0}},
     "y2": {"field": "b2"},
     "color": {"datum": "99%", "type": "nominal", "scale": {"domain": ["68%","95%","99%"], "range": ["#ff0000","#00ff00","#0000ff"]}, "legend": {"orient": "none", "legendX": 14, "legendY": 13, "title": null, "symbolType": "square", "symbolSize": 110, "symbolStrokeWidth": 0, "symbolOpacity": 1, "rowPadding": 3, "labelOffset": 2, "padding": 0}}}},
   {"mark": {"type": "area", "clip": true, "opacity": 1, "interpolate": "monotone"}, "encoding": {
     "x": {"field": "m", "type": "quantitative", "scale": {"type": "log", "domain": [62, 1.5e12], "nice": false}, "axis": {"orient": "bottom", "values": [1e2,1e3,1e4,1e5,1e6,1e7,1e8,1e9,1e10,1e11,1e12], "labels": false, "tickSize": -5, "domain": true, "grid": false, "title": null, "zindex": 1}},
     "y": {"field": "g1", "type": "quantitative", "scale": {"type": "log", "domain": [4e-8, 0.45], "nice": false}, "axis": {"orient": "left", "values": [1e-7,1e-6,1e-5,1e-4,1e-3,1e-2,1e-1], "labels": false, "tickSize": -5, "domain": true, "grid": false, "title": null, "zindex": 1}},
     "y2": {"field": "g2"},
     "color": {"datum": "95%", "type": "nominal"}}},
   {"mark": {"type": "area", "clip": true, "opacity": 1, "interpolate": "monotone"}, "encoding": {
     "x": {"field": "m", "type": "quantitative", "scale": {"type": "log", "domain": [62, 1.5e12], "nice": false}, "axis": {"orient": "bottom", "values": [70,80,90,200,300,400,500,600,700,800,900,2e3,3e3,4e3,5e3,6e3,7e3,8e3,9e3,2e4,3e4,4e4,5e4,6e4,7e4,8e4,9e4,2e5,3e5,4e5,5e5,6e5,7e5,8e5,9e5,2e6,3e6,4e6,5e6,6e6,7e6,8e6,9e6,2e7,3e7,4e7,5e7,6e7,7e7,8e7,9e7,2e8,3e8,4e8,5e8,6e8,7e8,8e8,9e8,2e9,3e9,4e9,5e9,6e9,7e9,8e9,9e9,2e10,3e10,4e10,5e10,6e10,7e10,8e10,9e10,2e11,3e11,4e11,5e11,6e11,7e11,8e11,9e11], "labels": false, "tickSize": -2.5, "domain": false, "grid": false, "title": null, "zindex": 1}},
     "y": {"field": "r1", "type": "quantitative", "scale": {"type": "log", "domain": [4e-8, 0.45], "nice": false}, "axis": {"orient": "left", "values": [5e-8,6e-8,7e-8,8e-8,9e-8,2e-7,3e-7,4e-7,5e-7,6e-7,7e-7,8e-7,9e-7,2e-6,3e-6,4e-6,5e-6,6e-6,7e-6,8e-6,9e-6,2e-5,3e-5,4e-5,5e-5,6e-5,7e-5,8e-5,9e-5,2e-4,3e-4,4e-4,5e-4,6e-4,7e-4,8e-4,9e-4,2e-3,3e-3,4e-3,5e-3,6e-3,7e-3,8e-3,9e-3,2e-2,3e-2,4e-2,5e-2,6e-2,7e-2,8e-2,9e-2,2e-1,3e-1,4e-1], "labels": false, "tickSize": -2.5, "domain": false, "grid": false, "title": null, "zindex": 1}},
     "y2": {"field": "r2"},
     "color": {"datum": "68%", "type": "nominal"}}},
   {"mark": {"type": "line", "clip": true, "color": "#000", "strokeWidth": 1.2, "interpolate": "monotone"}, "encoding": {
     "x": {"field": "m", "type": "quantitative", "scale": {"type": "log", "domain": [62, 1.5e12], "nice": false}, "axis": {"orient": "top", "values": [1e2,1e3,1e4,1e5,1e6,1e7,1e8,1e9,1e10,1e11,1e12], "labels": false, "tickSize": -5, "domain": true, "grid": false, "title": null, "zindex": 1}},
     "y": {"field": "c", "type": "quantitative", "scale": {"type": "log", "domain": [4e-8, 0.45], "nice": false}, "axis": {"orient": "right", "values": [1e-7,1e-6,1e-5,1e-4,1e-3,1e-2,1e-1], "labels": false, "tickSize": -5, "domain": true, "grid": false, "title": null, "zindex": 1}}}},
   {"mark": {"type": "line", "clip": true, "opacity": 0}, "encoding": {
     "x": {"field": "m", "type": "quantitative", "scale": {"type": "log", "domain": [62, 1.5e12], "nice": false}, "axis": {"orient": "top", "values": [70,80,90,200,300,400,500,600,700,800,900,2e3,3e3,4e3,5e3,6e3,7e3,8e3,9e3,2e4,3e4,4e4,5e4,6e4,7e4,8e4,9e4,2e5,3e5,4e5,5e5,6e5,7e5,8e5,9e5,2e6,3e6,4e6,5e6,6e6,7e6,8e6,9e6,2e7,3e7,4e7,5e7,6e7,7e7,8e7,9e7,2e8,3e8,4e8,5e8,6e8,7e8,8e8,9e8,2e9,3e9,4e9,5e9,6e9,7e9,8e9,9e9,2e10,3e10,4e10,5e10,6e10,7e10,8e10,9e10,2e11,3e11,4e11,5e11,6e11,7e11,8e11,9e11], "labels": false, "tickSize": -2.5, "domain": false, "grid": false, "title": null, "zindex": 1}},
     "y": {"field": "c", "type": "quantitative", "scale": {"type": "log", "domain": [4e-8, 0.45], "nice": false}, "axis": {"orient": "right", "values": [5e-8,6e-8,7e-8,8e-8,9e-8,2e-7,3e-7,4e-7,5e-7,6e-7,7e-7,8e-7,9e-7,2e-6,3e-6,4e-6,5e-6,6e-6,7e-6,8e-6,9e-6,2e-5,3e-5,4e-5,5e-5,6e-5,7e-5,8e-5,9e-5,2e-4,3e-4,4e-4,5e-4,6e-4,7e-4,8e-4,9e-4,2e-3,3e-3,4e-3,5e-3,6e-3,7e-3,8e-3,9e-3,2e-2,3e-2,4e-2,5e-2,6e-2,7e-2,8e-2,9e-2,2e-1,3e-1,4e-1], "labels": false, "tickSize": -2.5, "domain": false, "grid": false, "title": null, "zindex": 1}}}},
   {"mark": {"type": "line", "clip": true, "opacity": 0}, "encoding": {
     "x": {"field": "m", "type": "quantitative", "scale": {"type": "log", "domain": [62, 1.5e12], "nice": false}, "axis": {"orient": "bottom", "values": [1e2,1e4,1e6,1e8,1e10,1e12], "labelExpr": "round(log(datum.value)/LN10) + ''", "labelAlign": "left", "labelOffset": 4, "labelPadding": 1, "labelFontSize": 10, "ticks": false, "domain": false, "grid": false, "title": null}},
     "y": {"field": "c", "type": "quantitative", "scale": {"type": "log", "domain": [4e-8, 0.45], "nice": false}, "axis": {"orient": "left", "values": [1e-7,1e-6,1e-5,1e-4,1e-3,1e-2,1e-1], "labelExpr": "'−' + round(-log(datum.value)/LN10)", "labelAlign": "left", "labelBaseline": "alphabetic", "labelPadding": 16, "labelFontSize": 10, "ticks": false, "domain": false, "grid": false, "title": null}}}}
  ],
  "resolve": {"axis": {"x": "independent", "y": "independent"}}},
 {"hconcat": [
 {"width": 301, "height": 197, "transform": [{"filter": "datum.p == 5"}],
  "layer": [
   {"mark": {"type": "area", "clip": true, "opacity": 1, "interpolate": "monotone"}, "encoding": {
     "x": {"field": "m", "type": "quantitative", "scale": {"type": "log", "domain": [62, 1.5e12], "nice": false}, "axis": {"orient": "bottom", "values": [1e2,1e4,1e6,1e8,1e10,1e12], "labelExpr": "'10'", "labelAlign": "right", "labelOffset": 4, "labelPadding": 4, "ticks": false, "domain": false, "grid": true, "gridOpacity": {"condition": {"test": "datum.value < 1e3 || datum.value > 1e11", "value": 0}, "value": 1}, "title": "m₄  [GeV]", "titlePadding": 7, "zindex": 0}},
     "y": {"field": "b1", "type": "quantitative", "scale": {"type": "log", "domain": [4e-8, 0.45], "nice": false}, "axis": {"orient": "left", "values": [1e-7,1e-6,1e-5,1e-4,1e-3,1e-2,1e-1], "labelExpr": "'10'", "labelAlign": "right", "labelBaseline": "middle", "labelPadding": 16, "ticks": false, "domain": false, "grid": true, "gridOpacity": {"condition": {"test": "datum.value > 0.05", "value": 0}, "value": 1}, "title": "|Δ₂₂|", "titlePadding": 10, "zindex": 0}},
     "y2": {"field": "b2"},
     "color": {"datum": "99%", "type": "nominal", "scale": {"domain": ["68%","95%","99%"], "range": ["#ff0000","#00ff00","#0000ff"]}, "legend": {"orient": "none", "legendX": 14, "legendY": 13, "title": null, "symbolType": "square", "symbolSize": 110, "symbolStrokeWidth": 0, "symbolOpacity": 1, "rowPadding": 3, "labelOffset": 2, "padding": 0}}}},
   {"mark": {"type": "area", "clip": true, "opacity": 1, "interpolate": "monotone"}, "encoding": {
     "x": {"field": "m", "type": "quantitative", "scale": {"type": "log", "domain": [62, 1.5e12], "nice": false}, "axis": {"orient": "bottom", "values": [1e2,1e3,1e4,1e5,1e6,1e7,1e8,1e9,1e10,1e11,1e12], "labels": false, "tickSize": -5, "domain": true, "grid": false, "title": null, "zindex": 1}},
     "y": {"field": "g1", "type": "quantitative", "scale": {"type": "log", "domain": [4e-8, 0.45], "nice": false}, "axis": {"orient": "left", "values": [1e-7,1e-6,1e-5,1e-4,1e-3,1e-2,1e-1], "labels": false, "tickSize": -5, "domain": true, "grid": false, "title": null, "zindex": 1}},
     "y2": {"field": "g2"},
     "color": {"datum": "95%", "type": "nominal"}}},
   {"mark": {"type": "area", "clip": true, "opacity": 1, "interpolate": "monotone"}, "encoding": {
     "x": {"field": "m", "type": "quantitative", "scale": {"type": "log", "domain": [62, 1.5e12], "nice": false}, "axis": {"orient": "bottom", "values": [70,80,90,200,300,400,500,600,700,800,900,2e3,3e3,4e3,5e3,6e3,7e3,8e3,9e3,2e4,3e4,4e4,5e4,6e4,7e4,8e4,9e4,2e5,3e5,4e5,5e5,6e5,7e5,8e5,9e5,2e6,3e6,4e6,5e6,6e6,7e6,8e6,9e6,2e7,3e7,4e7,5e7,6e7,7e7,8e7,9e7,2e8,3e8,4e8,5e8,6e8,7e8,8e8,9e8,2e9,3e9,4e9,5e9,6e9,7e9,8e9,9e9,2e10,3e10,4e10,5e10,6e10,7e10,8e10,9e10,2e11,3e11,4e11,5e11,6e11,7e11,8e11,9e11], "labels": false, "tickSize": -2.5, "domain": false, "grid": false, "title": null, "zindex": 1}},
     "y": {"field": "r1", "type": "quantitative", "scale": {"type": "log", "domain": [4e-8, 0.45], "nice": false}, "axis": {"orient": "left", "values": [5e-8,6e-8,7e-8,8e-8,9e-8,2e-7,3e-7,4e-7,5e-7,6e-7,7e-7,8e-7,9e-7,2e-6,3e-6,4e-6,5e-6,6e-6,7e-6,8e-6,9e-6,2e-5,3e-5,4e-5,5e-5,6e-5,7e-5,8e-5,9e-5,2e-4,3e-4,4e-4,5e-4,6e-4,7e-4,8e-4,9e-4,2e-3,3e-3,4e-3,5e-3,6e-3,7e-3,8e-3,9e-3,2e-2,3e-2,4e-2,5e-2,6e-2,7e-2,8e-2,9e-2,2e-1,3e-1,4e-1], "labels": false, "tickSize": -2.5, "domain": false, "grid": false, "title": null, "zindex": 1}},
     "y2": {"field": "r2"},
     "color": {"datum": "68%", "type": "nominal"}}},
   {"mark": {"type": "line", "clip": true, "color": "#000", "strokeWidth": 1.2, "interpolate": "monotone"}, "encoding": {
     "x": {"field": "m", "type": "quantitative", "scale": {"type": "log", "domain": [62, 1.5e12], "nice": false}, "axis": {"orient": "top", "values": [1e2,1e3,1e4,1e5,1e6,1e7,1e8,1e9,1e10,1e11,1e12], "labels": false, "tickSize": -5, "domain": true, "grid": false, "title": null, "zindex": 1}},
     "y": {"field": "c", "type": "quantitative", "scale": {"type": "log", "domain": [4e-8, 0.45], "nice": false}, "axis": {"orient": "right", "values": [1e-7,1e-6,1e-5,1e-4,1e-3,1e-2,1e-1], "labels": false, "tickSize": -5, "domain": true, "grid": false, "title": null, "zindex": 1}}}},
   {"mark": {"type": "line", "clip": true, "opacity": 0}, "encoding": {
     "x": {"field": "m", "type": "quantitative", "scale": {"type": "log", "domain": [62, 1.5e12], "nice": false}, "axis": {"orient": "top", "values": [70,80,90,200,300,400,500,600,700,800,900,2e3,3e3,4e3,5e3,6e3,7e3,8e3,9e3,2e4,3e4,4e4,5e4,6e4,7e4,8e4,9e4,2e5,3e5,4e5,5e5,6e5,7e5,8e5,9e5,2e6,3e6,4e6,5e6,6e6,7e6,8e6,9e6,2e7,3e7,4e7,5e7,6e7,7e7,8e7,9e7,2e8,3e8,4e8,5e8,6e8,7e8,8e8,9e8,2e9,3e9,4e9,5e9,6e9,7e9,8e9,9e9,2e10,3e10,4e10,5e10,6e10,7e10,8e10,9e10,2e11,3e11,4e11,5e11,6e11,7e11,8e11,9e11], "labels": false, "tickSize": -2.5, "domain": false, "grid": false, "title": null, "zindex": 1}},
     "y": {"field": "c", "type": "quantitative", "scale": {"type": "log", "domain": [4e-8, 0.45], "nice": false}, "axis": {"orient": "right", "values": [5e-8,6e-8,7e-8,8e-8,9e-8,2e-7,3e-7,4e-7,5e-7,6e-7,7e-7,8e-7,9e-7,2e-6,3e-6,4e-6,5e-6,6e-6,7e-6,8e-6,9e-6,2e-5,3e-5,4e-5,5e-5,6e-5,7e-5,8e-5,9e-5,2e-4,3e-4,4e-4,5e-4,6e-4,7e-4,8e-4,9e-4,2e-3,3e-3,4e-3,5e-3,6e-3,7e-3,8e-3,9e-3,2e-2,3e-2,4e-2,5e-2,6e-2,7e-2,8e-2,9e-2,2e-1,3e-1,4e-1], "labels": false, "tickSize": -2.5, "domain": false, "grid": false, "title": null, "zindex": 1}}}},
   {"mark": {"type": "line", "clip": true, "opacity": 0}, "encoding": {
     "x": {"field": "m", "type": "quantitative", "scale": {"type": "log", "domain": [62, 1.5e12], "nice": false}, "axis": {"orient": "bottom", "values": [1e2,1e4,1e6,1e8,1e10,1e12], "labelExpr": "round(log(datum.value)/LN10) + ''", "labelAlign": "left", "labelOffset": 4, "labelPadding": 1, "labelFontSize": 10, "ticks": false, "domain": false, "grid": false, "title": null}},
     "y": {"field": "c", "type": "quantitative", "scale": {"type": "log", "domain": [4e-8, 0.45], "nice": false}, "axis": {"orient": "left", "values": [1e-7,1e-6,1e-5,1e-4,1e-3,1e-2,1e-1], "labelExpr": "'−' + round(-log(datum.value)/LN10)", "labelAlign": "left", "labelBaseline": "alphabetic", "labelPadding": 16, "labelFontSize": 10, "ticks": false, "domain": false, "grid": false, "title": null}}}}
  ],
  "resolve": {"axis": {"x": "independent", "y": "independent"}}},
 {"width": 301, "height": 197, "transform": [{"filter": "datum.p == 6"}],
  "layer": [
   {"mark": {"type": "area", "clip": true, "opacity": 1, "interpolate": "monotone"}, "encoding": {
     "x": {"field": "m", "type": "quantitative", "scale": {"type": "log", "domain": [62, 1.5e12], "nice": false}, "axis": {"orient": "bottom", "values": [1e2,1e4,1e6,1e8,1e10,1e12], "labelExpr": "'10'", "labelAlign": "right", "labelOffset": 4, "labelPadding": 4, "ticks": false, "domain": false, "grid": true, "gridOpacity": {"condition": {"test": "datum.value < 1e3 || datum.value > 1e11", "value": 0}, "value": 1}, "title": "m₄  [GeV]", "titlePadding": 7, "zindex": 0}},
     "y": {"field": "b1", "type": "quantitative", "scale": {"type": "log", "domain": [4e-8, 0.45], "nice": false}, "axis": {"orient": "left", "values": [1e-7,1e-6,1e-5,1e-4,1e-3,1e-2,1e-1], "labelExpr": "'10'", "labelAlign": "right", "labelBaseline": "middle", "labelPadding": 16, "ticks": false, "domain": false, "grid": true, "gridOpacity": {"condition": {"test": "datum.value > 0.05", "value": 0}, "value": 1}, "title": "|Δ₂₃|", "titlePadding": 10, "zindex": 0}},
     "y2": {"field": "b2"},
     "color": {"datum": "99%", "type": "nominal", "scale": {"domain": ["68%","95%","99%"], "range": ["#ff0000","#00ff00","#0000ff"]}, "legend": {"orient": "none", "legendX": 14, "legendY": 13, "title": null, "symbolType": "square", "symbolSize": 110, "symbolStrokeWidth": 0, "symbolOpacity": 1, "rowPadding": 3, "labelOffset": 2, "padding": 0}}}},
   {"mark": {"type": "area", "clip": true, "opacity": 1, "interpolate": "monotone"}, "encoding": {
     "x": {"field": "m", "type": "quantitative", "scale": {"type": "log", "domain": [62, 1.5e12], "nice": false}, "axis": {"orient": "bottom", "values": [1e2,1e3,1e4,1e5,1e6,1e7,1e8,1e9,1e10,1e11,1e12], "labels": false, "tickSize": -5, "domain": true, "grid": false, "title": null, "zindex": 1}},
     "y": {"field": "g1", "type": "quantitative", "scale": {"type": "log", "domain": [4e-8, 0.45], "nice": false}, "axis": {"orient": "left", "values": [1e-7,1e-6,1e-5,1e-4,1e-3,1e-2,1e-1], "labels": false, "tickSize": -5, "domain": true, "grid": false, "title": null, "zindex": 1}},
     "y2": {"field": "g2"},
     "color": {"datum": "95%", "type": "nominal"}}},
   {"mark": {"type": "area", "clip": true, "opacity": 1, "interpolate": "monotone"}, "encoding": {
     "x": {"field": "m", "type": "quantitative", "scale": {"type": "log", "domain": [62, 1.5e12], "nice": false}, "axis": {"orient": "bottom", "values": [70,80,90,200,300,400,500,600,700,800,900,2e3,3e3,4e3,5e3,6e3,7e3,8e3,9e3,2e4,3e4,4e4,5e4,6e4,7e4,8e4,9e4,2e5,3e5,4e5,5e5,6e5,7e5,8e5,9e5,2e6,3e6,4e6,5e6,6e6,7e6,8e6,9e6,2e7,3e7,4e7,5e7,6e7,7e7,8e7,9e7,2e8,3e8,4e8,5e8,6e8,7e8,8e8,9e8,2e9,3e9,4e9,5e9,6e9,7e9,8e9,9e9,2e10,3e10,4e10,5e10,6e10,7e10,8e10,9e10,2e11,3e11,4e11,5e11,6e11,7e11,8e11,9e11], "labels": false, "tickSize": -2.5, "domain": false, "grid": false, "title": null, "zindex": 1}},
     "y": {"field": "r1", "type": "quantitative", "scale": {"type": "log", "domain": [4e-8, 0.45], "nice": false}, "axis": {"orient": "left", "values": [5e-8,6e-8,7e-8,8e-8,9e-8,2e-7,3e-7,4e-7,5e-7,6e-7,7e-7,8e-7,9e-7,2e-6,3e-6,4e-6,5e-6,6e-6,7e-6,8e-6,9e-6,2e-5,3e-5,4e-5,5e-5,6e-5,7e-5,8e-5,9e-5,2e-4,3e-4,4e-4,5e-4,6e-4,7e-4,8e-4,9e-4,2e-3,3e-3,4e-3,5e-3,6e-3,7e-3,8e-3,9e-3,2e-2,3e-2,4e-2,5e-2,6e-2,7e-2,8e-2,9e-2,2e-1,3e-1,4e-1], "labels": false, "tickSize": -2.5, "domain": false, "grid": false, "title": null, "zindex": 1}},
     "y2": {"field": "r2"},
     "color": {"datum": "68%", "type": "nominal"}}},
   {"mark": {"type": "line", "clip": true, "color": "#000", "strokeWidth": 1.2, "interpolate": "monotone"}, "encoding": {
     "x": {"field": "m", "type": "quantitative", "scale": {"type": "log", "domain": [62, 1.5e12], "nice": false}, "axis": {"orient": "top", "values": [1e2,1e3,1e4,1e5,1e6,1e7,1e8,1e9,1e10,1e11,1e12], "labels": false, "tickSize": -5, "domain": true, "grid": false, "title": null, "zindex": 1}},
     "y": {"field": "c", "type": "quantitative", "scale": {"type": "log", "domain": [4e-8, 0.45], "nice": false}, "axis": {"orient": "right", "values": [1e-7,1e-6,1e-5,1e-4,1e-3,1e-2,1e-1], "labels": false, "tickSize": -5, "domain": true, "grid": false, "title": null, "zindex": 1}}}},
   {"mark": {"type": "line", "clip": true, "opacity": 0}, "encoding": {
     "x": {"field": "m", "type": "quantitative", "scale": {"type": "log", "domain": [62, 1.5e12], "nice": false}, "axis": {"orient": "top", "values": [70,80,90,200,300,400,500,600,700,800,900,2e3,3e3,4e3,5e3,6e3,7e3,8e3,9e3,2e4,3e4,4e4,5e4,6e4,7e4,8e4,9e4,2e5,3e5,4e5,5e5,6e5,7e5,8e5,9e5,2e6,3e6,4e6,5e6,6e6,7e6,8e6,9e6,2e7,3e7,4e7,5e7,6e7,7e7,8e7,9e7,2e8,3e8,4e8,5e8,6e8,7e8,8e8,9e8,2e9,3e9,4e9,5e9,6e9,7e9,8e9,9e9,2e10,3e10,4e10,5e10,6e10,7e10,8e10,9e10,2e11,3e11,4e11,5e11,6e11,7e11,8e11,9e11], "labels": false, "tickSize": -2.5, "domain": false, "grid": false, "title": null, "zindex": 1}},
     "y": {"field": "c", "type": "quantitative", "scale": {"type": "log", "domain": [4e-8, 0.45], "nice": false}, "axis": {"orient": "right", "values": [5e-8,6e-8,7e-8,8e-8,9e-8,2e-7,3e-7,4e-7,5e-7,6e-7,7e-7,8e-7,9e-7,2e-6,3e-6,4e-6,5e-6,6e-6,7e-6,8e-6,9e-6,2e-5,3e-5,4e-5,5e-5,6e-5,7e-5,8e-5,9e-5,2e-4,3e-4,4e-4,5e-4,6e-4,7e-4,8e-4,9e-4,2e-3,3e-3,4e-3,5e-3,6e-3,7e-3,8e-3,9e-3,2e-2,3e-2,4e-2,5e-2,6e-2,7e-2,8e-2,9e-2,2e-1,3e-1,4e-1], "labels": false, "tickSize": -2.5, "domain": false, "grid": false, "title": null, "zindex": 1}}}},
   {"mark": {"type": "line", "clip": true, "opacity": 0}, "encoding": {
     "x": {"field": "m", "type": "quantitative", "scale": {"type": "log", "domain": [62, 1.5e12], "nice": false}, "axis": {"orient": "bottom", "values": [1e2,1e4,1e6,1e8,1e10,1e12], "labelExpr": "round(log(datum.value)/LN10) + ''", "labelAlign": "left", "labelOffset": 4, "labelPadding": 1, "labelFontSize": 10, "ticks": false, "domain": false, "grid": false, "title": null}},
     "y": {"field": "c", "type": "quantitative", "scale": {"type": "log", "domain": [4e-8, 0.45], "nice": false}, "axis": {"orient": "left", "values": [1e-7,1e-6,1e-5,1e-4,1e-3,1e-2,1e-1], "labelExpr": "'−' + round(-log(datum.value)/LN10)", "labelAlign": "left", "labelBaseline": "alphabetic", "labelPadding": 16, "labelFontSize": 10, "ticks": false, "domain": false, "grid": false, "title": null}}}}
  ],
  "resolve": {"axis": {"x": "independent", "y": "independent"}}}
 ], "spacing": 80, "bounds": "flush", "resolve": {"scale": {"color": "independent"}, "legend": {"color": "independent"}}}
], "spacing": 88, "bounds": "flush", "resolve": {"scale": {"color": "independent"}, "legend": {"color": "independent"}}}
]
}
